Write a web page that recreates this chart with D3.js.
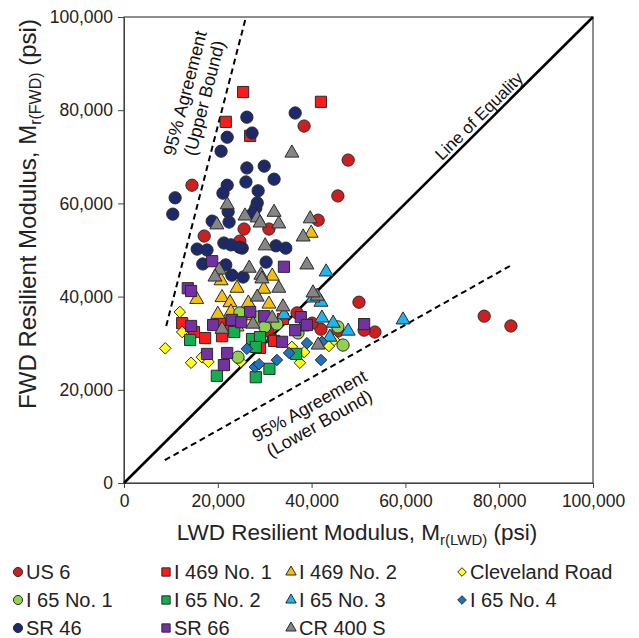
<!DOCTYPE html>
<html>
<head>
<meta charset="utf-8">
<script src="https://cdn.jsdelivr.net/npm/d3@7"></script>
<style>
  html, body { margin: 0; padding: 0; background: #fff; }
  svg { display: block; font-family: Arial, "Liberation Sans", sans-serif; }
</style>
</head>
<body>
<svg id="chart" width="639" height="638"></svg>
<script>
// LWD vs FWD resilient modulus (psi), one array of [LWD, FWD] pairs per site
const us6 = [[14500,63900],[17100,53000],[24700,51900],[25600,54500],[30900,54500],[38400,76600],[47800,69300],[45600,61600],[41400,56400],[50100,38800],[76800,35800],[82500,33700],[53500,32400],[51200,32800],[42000,33000],[45600,32600],[40100,34300],[36900,36500],[30700,32600],[31800,30700]];
const i469no1 = [[25400,83900],[42000,81800],[21700,77500],[26900,74500],[12400,34300],[14900,32400],[17300,31100],[20500,34300],[20900,31500],[22800,33700],[32000,30500],[33900,35200],[29000,29000]];
const i469no2 = [[39900,53600],[31600,44400],[29800,41600],[24100,41800],[20700,43400],[15500,39400],[20900,39800],[22600,38700],[22800,36700],[26500,38600],[30900,38400],[24100,33500],[27500,35900],[20000,36200]];
const clevelandRoad = [[8800,28900],[11900,36700],[12400,32400],[14300,25800],[16600,27000],[18000,26000],[24900,26000],[35800,29200],[38400,28100],[37500,25800],[43700,29400],[44800,30700],[36700,27500]];
const i65no1 = [[24700,36500],[28400,35600],[32600,34100],[37100,32200],[45600,33500],[46700,29600],[24300,27000],[30000,33500]];
const i65no2 = [[14100,30700],[19800,23000],[23500,32400],[27300,30900],[29000,31300],[28100,29200],[28100,22700],[31000,24500],[36700,27700]];
const i65no3 = [[43100,45300],[42000,38800],[40300,39700],[42200,35400],[47800,32600],[59500,35000],[43900,31300],[34100,36100],[38000,33500],[44600,34300]];
const i65no4 = [[26200,28800],[27900,24900],[28800,25500],[32600,26400],[35200,27900],[42200,30300],[42000,26400],[39000,30000]];
const sr46 = [[26200,78500],[36500,79400],[27300,75100],[22000,74200],[20700,71200],[26200,67600],[29900,68000],[26000,64600],[32000,65200],[22000,63900],[21100,62200],[28600,62700],[10900,61200],[10400,57700],[28400,60100],[28100,59000],[27500,57900],[22200,58200],[18800,56200],[22400,56000],[21300,51500],[22800,51100],[25200,50400],[15600,50200],[17700,50000],[16800,47000],[21700,46800],[23000,44600],[25400,44200],[32400,50900],[34500,50400],[30300,47400],[24600,50600]];
const sr66 = [[18800,47600],[34100,46400],[13600,41800],[14300,41200],[14300,33700],[19000,33900],[23000,35000],[26900,36700],[29900,35800],[37700,35600],[36500,32800],[39000,33900],[33700,30300],[17700,27700],[22000,27900],[21300,25300],[51200,34100],[25000,34500]];
const cr400s = [[35800,70800],[22000,59700],[19800,55400],[25800,57300],[28400,56900],[29000,55800],[32000,58100],[33000,55600],[39700,56700],[38200,52800],[30100,50900],[20300,45700],[26700,46100],[19400,44200],[39000,46800],[29200,44600],[29400,43800],[33000,41800],[28400,39900],[33900,37800],[41200,40100],[27500,34100],[41400,29600],[31600,35400],[20900,33000],[40300,40800]];

const seriesNames = ["US 6","I 469 No. 1","I 469 No. 2","Cleveland Road","I 65 No. 1","I 65 No. 2","I 65 No. 3","I 65 No. 4","SR 46","SR 66","CR 400 S"];
const seriesData = [us6,i469no1,i469no2,clevelandRoad,i65no1,i65no2,i65no3,i65no4,sr46,sr66,cr400s];

// Reference lines: equality and the 95% agreement bounds
const equalityLine = [[0,0],[100000,100000]];
const upperBound = [[9000,33700],[26000,100000]];
const lowerBound = [[8700,4900],[82700,46800]];

const tickValues = [0,20000,40000,60000,80000,100000];

// Marker styling per site
const colors = ["#cc1f1f","#ff1a1a","#f5bf0f","#ffff1a","#92d050","#12b04c","#1eb4ee","#1f72c0","#1c2a6b","#7431a3","#858585"];
const diamond = {
  draw(ctx, size) {
    const r = Math.sqrt(size) * 0.62625;
    ctx.moveTo(0,-r); ctx.lineTo(r,0); ctx.lineTo(0,r); ctx.lineTo(-r,0); ctx.closePath();
  }
};
const shapes = [d3.symbolCircle,d3.symbolSquare,d3.symbolTriangle,diamond,d3.symbolCircle,d3.symbolSquare,d3.symbolTriangle,diamond,d3.symbolCircle,d3.symbolSquare,d3.symbolTriangle];
function symbolSize(type, scale) {
  if (type === d3.symbolCircle) return 118 * scale;
  if (type === d3.symbolSquare) return 125 * scale;
  if (type === d3.symbolTriangle) return 85 * scale;
  return 85 * scale;
}

const svg = d3.select("#chart");
const margin = {left: 124, top: 17, right: 46, bottom: 155};
const W = 639, H = 638;
const x = d3.scaleLinear().domain([0,100000]).range([margin.left, W - margin.right]);
const y = d3.scaleLinear().domain([0,100000]).range([H - margin.bottom, margin.top]);
const fmt = d3.format(",");

// Axes
const xAxis = svg.append("g")
  .attr("transform", `translate(0,${y(0)})`)
  .call(d3.axisBottom(x).tickValues(tickValues).tickFormat(fmt).tickSizeInner(5).tickSizeOuter(0).tickPadding(7));
const yAxis = svg.append("g")
  .attr("transform", `translate(${x(0)},0)`)
  .call(d3.axisLeft(y).tickValues(tickValues).tickFormat(fmt).tickSizeInner(6).tickSizeOuter(0).tickPadding(5));
[xAxis, yAxis].forEach(g => {
  g.selectAll("text").attr("font-size", 17.5).attr("fill", "#222").attr("font-family", "Arial, 'Liberation Sans', sans-serif");
  g.selectAll("line").attr("stroke", "#444");
  g.select(".domain").attr("stroke", "#444");
});

// Plot frame
svg.append("rect")
  .attr("x", x(0)).attr("y", y(100000))
  .attr("width", x(100000) - x(0)).attr("height", y(0) - y(100000))
  .attr("fill", "none").attr("stroke", "#444").attr("stroke-width", 1.2);

// Reference lines
const line = d3.line().x(d => x(d[0])).y(d => y(d[1]));
svg.append("path").attr("d", line(equalityLine)).attr("stroke", "#000").attr("stroke-width", 2.6).attr("fill", "none");
[upperBound, lowerBound].forEach(b => {
  svg.append("path").attr("d", line(b)).attr("stroke", "#000").attr("stroke-width", 2)
    .attr("stroke-dasharray", "6,4").attr("fill", "none");
});

// Line annotations
function angleOf(seg) {
  const dx = x(seg[1][0]) - x(seg[0][0]);
  const dy = y(seg[1][1]) - y(seg[0][1]);
  return Math.atan2(dy, dx) * 180 / Math.PI;
}
function rotatedLabel(cx, cy, angle, lines, gap, size) {
  const g = svg.append("g").attr("transform", `translate(${cx},${cy}) rotate(${angle})`);
  lines.forEach((t, i) => {
    g.append("text").attr("x", 0).attr("y", (i - (lines.length - 1) / 2) * gap)
      .attr("text-anchor", "middle").attr("dominant-baseline", "middle")
      .attr("font-size", size).attr("fill", "#111").text(t);
  });
}
rotatedLabel(480, 117, angleOf(equalityLine), ["Line of Equality"], 18, 17);
rotatedLabel(196, 96, angleOf(upperBound), ["95% Agreement", "(Upper Bound)"], 20, 18);
rotatedLabel(315, 416, angleOf(lowerBound), ["95% Agreement", "(Lower Bound)"], 20, 18);

// Data points
seriesData.forEach((data, i) => {
  const sym = d3.symbol().type(shapes[i]).size(symbolSize(shapes[i], 1));
  svg.append("g").selectAll("path").data(data).join("path")
    .attr("transform", d => `translate(${x(d[0])},${y(d[1])})`)
    .attr("d", sym)
    .attr("fill", colors[i])
    .attr("stroke", "#2a2a2a").attr("stroke-width", 1);
});

// Axis titles with subscripts
const xt = svg.append("text").attr("x", 357).attr("y", 540).attr("text-anchor", "middle")
  .attr("font-size", 22.5).attr("fill", "#222");
xt.append("tspan").text("LWD Resilient Modulus, M");
xt.append("tspan").attr("font-size", 15).attr("dy", 5).text("r(LWD)");
xt.append("tspan").attr("dy", -5).text(" (psi)");

const yt = svg.append("text").attr("transform", "translate(36,214) rotate(-90)").attr("text-anchor", "middle")
  .attr("font-size", 24).attr("fill", "#222");
yt.append("tspan").text("FWD Resilient Modulus, M");
yt.append("tspan").attr("font-size", 16).attr("dy", 5).text("r(FWD)");
yt.append("tspan").attr("dy", -5).text(" (psi)");

// Legend
const legendCols = [18, 166, 291, 462];
const legendRows = [572, 600, 628];
seriesNames.forEach((name, i) => {
  const cx = legendCols[i % 4], cy = legendRows[Math.floor(i / 4)];
  const sym = d3.symbol().type(shapes[i]).size(symbolSize(shapes[i], 0.55));
  svg.append("path").attr("transform", `translate(${cx},${cy})`).attr("d", sym)
    .attr("fill", colors[i]).attr("stroke", "#2a2a2a").attr("stroke-width", 1);
  svg.append("text").attr("x", cx + 8).attr("y", cy).attr("dominant-baseline", "central")
    .attr("font-size", 20).attr("fill", "#222").text(name);
});
</script>
</body>
</html>
